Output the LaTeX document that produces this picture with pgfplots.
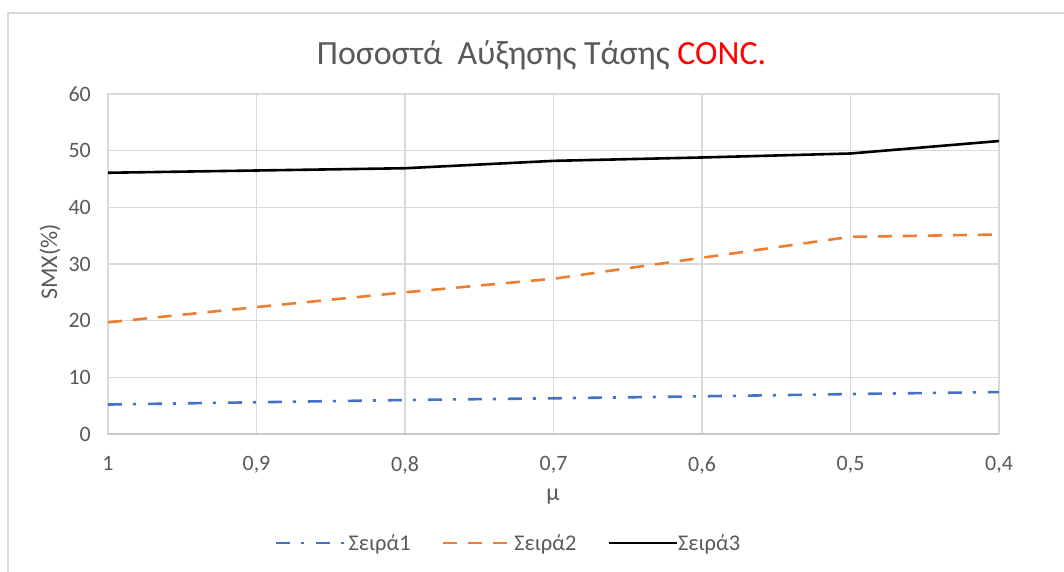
\documentclass[border=0pt]{standalone}
\usepackage{pgfplots}
\pgfplotsset{compat=1.18}
\usepackage{fontspec}
\setmainfont{Carlito}

\definecolor{txtgray}{RGB}{89,89,89}
\definecolor{gridgray}{RGB}{217,217,217}
\definecolor{axisgray}{RGB}{200,200,200}
\definecolor{seriesblue}{RGB}{68,114,196}
\definecolor{seriesorange}{RGB}{237,125,49}
\definecolor{titlered}{RGB}{255,0,0}

% Values for the three series, x = 0..6 standing for mu = 1, 0.9, ..., 0.4
\pgfplotstableread{
x s1   s2   s3
0 5.2  19.7 46.1
1 5.6  22.4 46.5
2 6.0  25.0 46.9
3 6.3  27.4 48.2
4 6.65 31.1 48.8
5 7.05 34.8 49.5
6 7.4  35.2 51.7
}\datatable

\tikzset{
  dashdotline/.style={dash pattern=on 14bp off 11bp on 3bp off 12bp},
  dashedline/.style={dash pattern=on 14bp off 11bp},
}
% legend samples: drawn length and the room kept before the entry text
\pgfplotsset{
  legA/.style={legend image code/.code={\draw[##1] (0bp,0bp) -- (54bp,0bp);
    \path (0bp,0bp) -- (71bp,0bp);}},
  legB/.style={legend image code/.code={\draw[##1] (0bp,0bp) -- (63bp,0bp);
    \path (0bp,0bp) -- (70bp,0bp);}},
  legC/.style={legend image code/.code={\draw[##1] (0bp,0bp) -- (62bp,0bp);
    \path (0bp,0bp) -- (68bp,0bp);}},
}

\begin{document}
\begin{tikzpicture}
\useasboundingbox (0,0) rectangle (1064bp,572bp);
\fill[white] (0,0) rectangle (1064bp,572bp);
% chart frame
\draw[gridgray, line width=1.2bp] (8bp,0) -- (8bp,559bp) -- (1064bp,559bp);

\begin{axis}[
  at={(108bp,138bp)}, anchor=south west,
  scale only axis, width=891bp, height=340bp,
  xmin=0, xmax=6, ymin=0, ymax=60,
  xtick={0,1,2,3,4,5,6},
  xticklabels={1,{0,9},{0,8},{0,7},{0,6},{0,5},{0,4}},
  ytick={0,10,20,30,40,50,60},
  grid=major,
  major grid style={gridgray, line width=1.2bp},
  axis line style={gridgray, line width=1.2bp},
  major tick length=0pt,
  /pgf/number format/assume math mode=true,
  tick label style={font=\fontsize{22}{26}\selectfont, text=txtgray},
  yticklabel style={anchor=east, inner sep=0pt, xshift=-17bp},
  xticklabel style={anchor=north, inner sep=0pt, yshift=-22bp},
  legend columns=3,
  legend style={at={(0.1874,-0.3206)}, anchor=west, draw=none, fill=none,
    inner sep=0pt, outer sep=0pt,
    nodes={inner sep=0pt},
    font=\fontsize{22.5}{27}\selectfont, text=txtgray,
    /tikz/every odd column/.append style={column sep=0bp},
    /tikz/every even column/.append style={column sep=31bp}},
  clip=false,
]
\addplot[seriesblue, line width=2.6bp, dashdotline, legA]
  table[x=x, y=s1] {\datatable};
\addlegendentry{Σειρά1}
\addplot[seriesorange, line width=2.6bp, dashedline, legB]
  table[x=x, y=s2] {\datatable};
\addlegendentry{Σειρά2}
\addplot[black, line width=2.6bp, legC]
  table[x=x, y=s3] {\datatable};
\addlegendentry{Σειρά3}
\end{axis}

% bottom axis line
\draw[axisgray, line width=1.2bp] (108bp,138bp) -- (999bp,138bp);

% title and axis titles
\node[font=\fontsize{34}{40}\selectfont, text=txtgray, anchor=base] at (541.5bp,507bp)
  {Ποσοστά\ \ Αύξησης Τάσης \textcolor{titlered}{CONC.}};
\node[font=\fontsize{24}{28}\selectfont, text=txtgray] at (553bp,75bp) {μ};
\node[font=\fontsize{24}{28}\selectfont, text=txtgray, rotate=90] at (50bp,310bp) {SMX(\%)};
\end{tikzpicture}
\end{document}
